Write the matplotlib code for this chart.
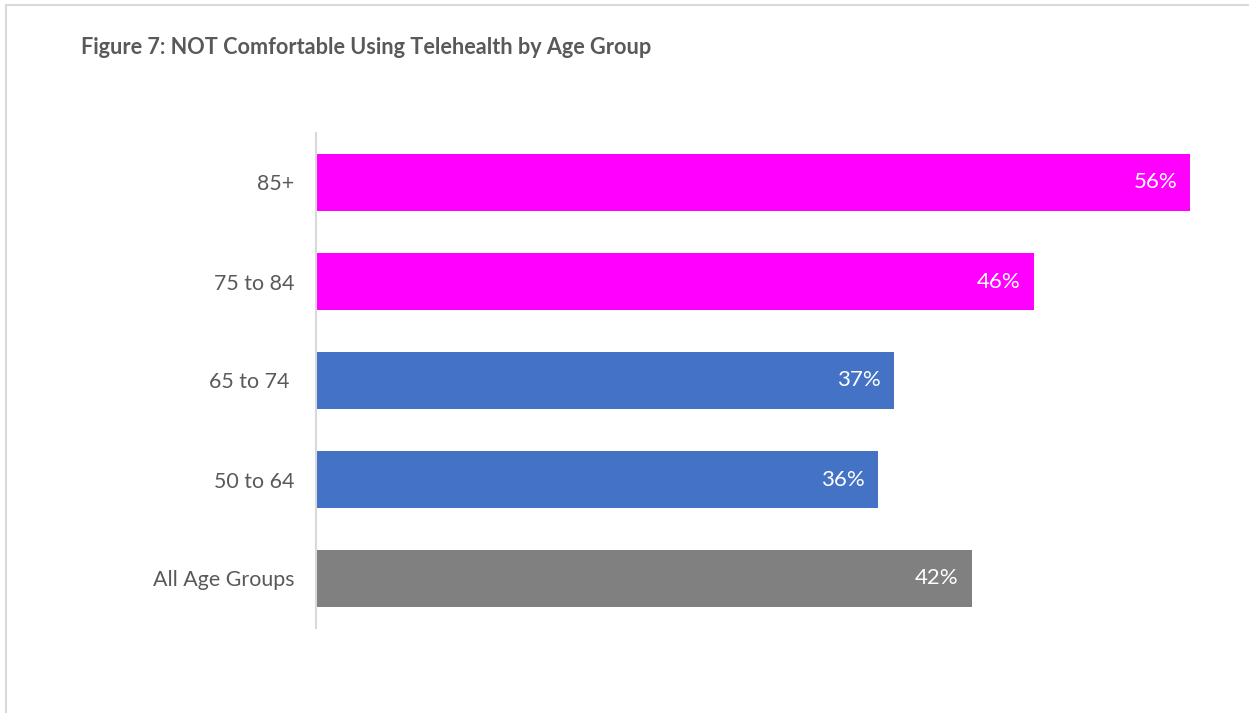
import matplotlib
matplotlib.use('Agg')
import matplotlib.pyplot as plt
from matplotlib.patches import Rectangle

# chart data, top to bottom
groups = ['85+', '75 to 84', '65 to 74 ', '50 to 64', 'All Age Groups']
pcts = [56, 46, 37, 36, 42]
colors = ['#FF00FF', '#FF00FF', '#4472C4', '#4472C4', '#808080']

plt.rcParams['font.family'] = ['Lato', 'DejaVu Sans']

W, H = 1249, 713
fig = plt.figure(figsize=(W / 100, H / 100), dpi=100)

# light frame round the chart area (only top and left visible in the crop)
fig.patches.append(Rectangle((6 / W, -0.1), 1.2, (H - 5.5) / H + 0.1,
                             transform=fig.transFigure, fill=False,
                             edgecolor='#D9D9D9', linewidth=1.5))

fig.text(81 / W, 1 - 47 / H, 'Figure 7: NOT Comfortable Using Telehealth by Age Group',
         fontsize=15.6, fontweight='bold', color='#595959', va='center', ha='left')

xmax = 58
px_per = 15.61
left, right = 316, 316 + px_per * xmax
top, bottom = 133, 628
ax = fig.add_axes([left / W, 1 - bottom / H, (right - left) / W, (bottom - top) / H])

y = list(range(len(groups)))
ax.barh(y, pcts, height=0.57, color=colors)
ax.set_ylim(len(groups) - 0.5, -0.5)
ax.set_xlim(0, xmax)
ax.set_yticks(y)
ax.set_yticklabels(groups, fontsize=15.4, color='#595959')
ax.tick_params(axis='y', length=0, pad=15.5)
ax.set_xticks([])

for s in ['top', 'right', 'bottom']:
    ax.spines[s].set_visible(False)
ax.spines['left'].set_color('#D9D9D9')
ax.spines['left'].set_linewidth(1.5)

for yi, v in zip(y, pcts):
    ax.annotate(f'{v}%', (v, yi), xytext=(-9.4, 0), textcoords='offset points',
                ha='right', va='center', color='white', fontsize=16)

fig.savefig('out.png', dpi=100)
